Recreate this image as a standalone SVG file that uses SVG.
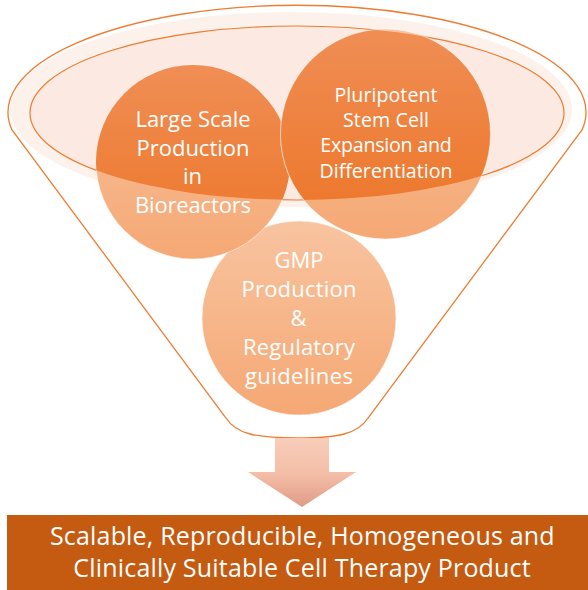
<svg xmlns="http://www.w3.org/2000/svg" width="588" height="590" viewBox="0 0 588 590">
  <defs>
    <style>
      .lbl { font-family: "Open Sans", "Liberation Sans", sans-serif; fill: #ffffff; text-anchor: middle; }
      .big { font-size: 22px; }
      .mid { font-size: 19.6px; }
      .bar { font-size: 25px; }
      .edge { stroke: #ffffff; stroke-opacity: 0.5; stroke-width: 1; }
    </style>
    <!-- circle fills: pale outside the rim, deep orange inside it -->
    <linearGradient id="lt" x1="0" y1="0" x2="0" y2="1">
      <stop offset="0" stop-color="#f8c4a0"/>
      <stop offset="1" stop-color="#f5a874"/>
    </linearGradient>
    <linearGradient id="dk" x1="0" y1="0" x2="0" y2="1">
      <stop offset="0" stop-color="#f08e55"/>
      <stop offset="1" stop-color="#ec7425"/>
    </linearGradient>
    <linearGradient id="arrowFill" gradientUnits="userSpaceOnUse" x1="0" y1="438" x2="0" y2="507">
      <stop offset="0" stop-color="#f8cdb9"/>
      <stop offset="0.5" stop-color="#f4bfa8"/>
      <stop offset="1" stop-color="#e09c87"/>
    </linearGradient>
    <clipPath id="rim">
      <ellipse cx="297" cy="113" rx="267" ry="87"/>
    </clipPath>
  </defs>

  <!-- funnel body -->
  <g id="funnel">
    <path d="M 12 130 A 289 107 0 1 1 582 130 L 368 418 C 358 434 338 438 297 438 C 256 438 236 434 226 418 Z"
          fill="#ffffff" stroke="#ed7d31" stroke-width="1.3"/>
    <ellipse cx="291" cy="109.5" rx="281" ry="97.5" fill="#fdf1ec"/>
    <ellipse cx="297" cy="113" rx="267" ry="87" fill="#fce9e1" stroke="#ed7d31" stroke-width="1.2"/>
  </g>

  <!-- GMP node -->
  <g id="node-gmp">
    <circle cx="299" cy="318" r="97" fill="url(#lt)" class="edge"/>
    <text class="lbl big" x="299" y="267.5">GMP</text>
    <text class="lbl big" x="299" y="296.5" textLength="115">Production</text>
    <text class="lbl big" x="298.5" y="325.5">&amp;</text>
    <text class="lbl big" x="299" y="354.5" textLength="112">Regulatory</text>
    <text class="lbl big" x="299" y="383.5" textLength="108">guidelines</text>
  </g>

  <!-- bioreactor node -->
  <g id="node-bioreactors">
    <circle cx="193" cy="162" r="97" fill="url(#lt)" class="edge"/>
    <circle cx="193" cy="162" r="97" fill="url(#dk)" clip-path="url(#rim)"/>
    <text class="lbl big" x="193" y="127" textLength="115">Large Scale</text>
    <text class="lbl big" x="193" y="155.5" textLength="113">Production</text>
    <text class="lbl big" x="192.5" y="184">in</text>
    <text class="lbl big" x="193" y="212.5" textLength="116">Bioreactors</text>
  </g>

  <!-- stem cell node -->
  <g id="node-stemcells">
    <circle cx="385.5" cy="134" r="105" fill="url(#lt)" class="edge"/>
    <circle cx="385.5" cy="134" r="105" fill="url(#dk)" clip-path="url(#rim)" class="edge"/>
    <text class="lbl mid" x="386" y="101.8" textLength="103">Pluripotent</text>
    <text class="lbl mid" x="386" y="127.1" textLength="86">Stem Cell</text>
    <text class="lbl mid" x="386" y="152.4" textLength="131.5">Expansion and</text>
    <text class="lbl mid" x="386" y="177.7" textLength="133">Differentiation</text>
  </g>

  <!-- flow out of the funnel -->
  <g id="connectors">
    <path d="M 275 438 H 329 V 472 H 356 L 302 507 L 248 472 H 275 Z" fill="url(#arrowFill)"/>
  </g>

  <!-- result banner -->
  <g id="node-product">
    <rect x="7" y="515" width="581" height="75" fill="#c55a11"/>
    <text class="lbl bar" x="302.3" y="545" textLength="504.7">Scalable, Reproducible, Homogeneous and</text>
    <text class="lbl bar" x="302" y="576.7" textLength="457.4">Clinically Suitable Cell Therapy Product</text>
  </g>
</svg>
